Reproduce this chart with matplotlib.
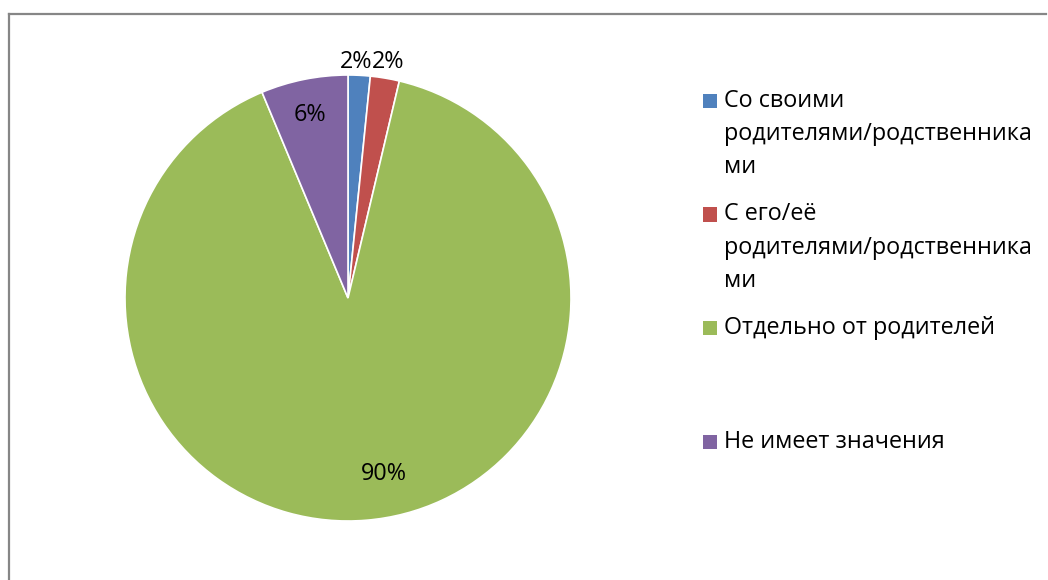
import matplotlib
matplotlib.use("Agg")
import matplotlib.pyplot as plt
from matplotlib.patches import Rectangle
from matplotlib.lines import Line2D

plt.rcParams['font.family'] = ['Open Sans', 'DejaVu Sans']

categories = [
    "Со своими\nродителями/родственника\nми",
    "С его/её\nродителями/родственника\nми",
    "Отдельно от родителей",
    "Не имеет значения",
]
values = [1.6, 2.1, 90.0, 6.3]
pct_labels = ["2%", "2%", "90%", "6%"]
colors = ['#4F81BD', '#C0504D', '#9BBB59', '#8064A2']

W, H = 1048, 580
fig = plt.figure(figsize=(W / 100, H / 100), dpi=100)

# pie axes: centre (348, 298) px, radius 223 px
cx, cy, r = 348, 298, 223
ax = fig.add_axes([(cx - r) / W, (H - cy - r) / H, 2 * r / W, 2 * r / H])
wedges, _ = ax.pie(values, colors=colors, startangle=90, counterclock=False,
                   wedgeprops=dict(edgecolor='white', linewidth=1.2))
ax.set_xlim(-1, 1)
ax.set_ylim(-1, 1)
ax.set_aspect('equal')
ax.axis('off')

# data label positions (in pie radius units)
label_pos = [(0.035, 1.06), (0.18, 1.06), (0.16, -0.79), (-0.17, 0.82)]
for txt, (lx, ly) in zip(pct_labels, label_pos):
    ax.text(lx, ly, txt, ha='center', va='center', fontsize=16.8, color='black',
            clip_on=False)

# legend drawn by hand, Excel style
top = 101
line_h = 33
entry_step = 113.5
for i, (lab, col) in enumerate(zip(categories, colors)):
    y0 = top + i * entry_step
    fig.add_artist(Rectangle((703 / W, 1 - (y0 + 7) / H), 14 / W, 14 / H,
                             transform=fig.transFigure, facecolor=col,
                             edgecolor='none'))
    for j, line in enumerate(lab.split("\n")):
        fig.text(724 / W, 1 - (y0 + j * line_h) / H, line, ha='left',
                 va='center', fontsize=16.8, color='black')

# chart frame (only top and left edges visible)
fig.add_artist(Line2D([8.5 / W, 1046 / W], [1 - 13.5 / H, 1 - 13.5 / H],
                      transform=fig.transFigure, color='#868686', lw=1.6))
fig.add_artist(Line2D([8.5 / W, 8.5 / W], [1 - 13.5 / H, 0],
                      transform=fig.transFigure, color='#868686', lw=1.6))

fig.savefig('out.png', dpi=100)
